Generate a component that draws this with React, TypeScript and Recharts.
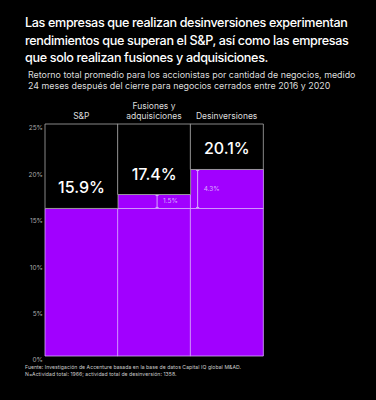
import { Bar, BarChart, LabelList, XAxis, YAxis } from "recharts"

const categories = ["S&P", "Fusiones y adquisiciones", "Desinversiones"]
const categoryLines = [["S&P"], ["Fusiones y", "adquisiciones"], ["Desinversiones"]]
const totalReturn = [15.9, 17.4, 20.1]
const valueLabels = ["15.9%", "17.4%", "20.1%"]
const gapLabels = ["", "1.5%", "4.3%"]
const yTicks = [0, 5, 10, 15, 20, 25]
const yMax = 25

const PURPLE = "#a100ff"
const LAVENDER = "#d9a8ff"
const FONT = "Inter, 'Noto Sans', sans-serif"

const data = categories.map((name, i) => {
  const base = Math.min(totalReturn[i], totalReturn[0])
  return {
    name,
    base,
    gap: totalReturn[i] - base,
    rest: yMax - totalReturn[i],
  }
})

// where the little bracket sits inside each column (fraction of width)
const bracketPos = [0, 0.54, 0.1]

function GapShape(props: any) {
  const { x, y, width, height, index } = props
  if (!height || height <= 0) return null
  const bx = x + width * bracketPos[index]
  return (
    <g>
      <rect x={x} y={y} width={width} height={height} fill={PURPLE} stroke={LAVENDER} strokeWidth={0.8} />
      <line x1={bx} y1={y + 1} x2={bx} y2={y + height - 1} stroke={LAVENDER} strokeWidth={1} />
      <line x1={bx - 1.5} y1={y + 1} x2={bx + 1.5} y2={y + 1} stroke={LAVENDER} strokeWidth={1} />
      <line x1={bx - 1.5} y1={y + height - 1} x2={bx + 1.5} y2={y + height - 1} stroke={LAVENDER} strokeWidth={1} />
      <text x={bx + 6} y={y + height / 2} dominantBaseline="central" fill={LAVENDER} fontSize={6.5} fontFamily={FONT}>
        {gapLabels[index]}
      </text>
    </g>
  )
}

function ValueLabel(props: any) {
  const { x, y, width, height, index } = props
  return (
    <text
      x={x + width / 2}
      y={y + height - 15}
      textAnchor="middle"
      fill="#fff"
      fontSize={16}
      fontWeight={500}
      fontFamily={FONT}
    >
      {valueLabels[index]}
    </text>
  )
}

function CategoryTick(props: any) {
  const { x, y, index } = props
  const lines = categoryLines[index] || []
  return (
    <g>
      {lines.map((line, k) => (
        <text
          key={k}
          x={x}
          y={y + 2.5 - (lines.length - 1 - k) * 10}
          textAnchor="middle"
          fill="#ddd"
          fontSize={8.5}
          fontFamily={FONT}
        >
          {line}
        </text>
      ))}
    </g>
  )
}

export default function App() {
  return (
    <div
      style={{
        position: "absolute",
        left: 0,
        top: 0,
        width: 376,
        height: 400,
        background: "#000",
        fontFamily: FONT,
        overflow: "hidden",
      }}
    >
      <div
        style={{
          position: "absolute",
          left: 25,
          top: 14,
          color: "#fff",
          fontSize: 12.6,
          fontWeight: 500,
          letterSpacing: -0.35,
          lineHeight: "17.5px",
          whiteSpace: "nowrap",
        }}
      >
        Las empresas que realizan desinversiones experimentan
        <br />
        rendimientos que superan el S&P, así como las empresas
        <br />
        que solo realizan fusiones y adquisiciones.
      </div>
      <div
        style={{
          position: "absolute",
          left: 28,
          top: 69,
          color: "#ddd",
          fontSize: 8.9,
          lineHeight: "11px",
          whiteSpace: "nowrap",
        }}
      >
        Retorno total promedio para los accionistas por cantidad de negocios, medido
        <br />
        24 meses después del cierre para negocios cerrados entre 2016 y 2020
      </div>
      <div style={{ position: "absolute", left: 0, top: 0 }}>
        <BarChart
          width={376}
          height={400}
          data={data}
          margin={{ top: 100, right: 113, bottom: 44, left: 8 }}
          barCategoryGap={0}
        >
          <XAxis
            dataKey="name"
            orientation="top"
            height={24}
            axisLine={false}
            tickLine={false}
            interval={0}
            tick={<CategoryTick />}
          />
          <YAxis
            width={37}
            domain={[0, yMax]}
            ticks={yTicks}
            axisLine={false}
            tickLine={false}
            tickFormatter={(v) => `${v}%`}
            tick={{ fill: "#aaa", fontSize: 6.5, fontFamily: FONT, dy: 4 }}
            tickMargin={-4}
          />
          <Bar dataKey="base" stackId="a" fill={PURPLE} stroke={LAVENDER} strokeWidth={0.8} isAnimationActive={false} />
          <Bar dataKey="gap" stackId="a" fill={PURPLE} shape={<GapShape />} isAnimationActive={false} />
          <Bar dataKey="rest" stackId="a" fill="#000" stroke="#aaa" strokeWidth={0.8} isAnimationActive={false}>
            <LabelList dataKey="rest" content={<ValueLabel />} />
          </Bar>
        </BarChart>
      </div>
      <div
        style={{
          position: "absolute",
          left: 25,
          top: 364,
          color: "#ccc",
          fontSize: 5.1,
          letterSpacing: 0.06,
          lineHeight: "7px",
          whiteSpace: "nowrap",
        }}
      >
        Fuente: Investigación de Accenture basada en la base de datos Capital IQ global M&AD.
        <br />
        N=Actividad total: 1966; actividad total de desinversión: 1358.
      </div>
    </div>
  )
}
